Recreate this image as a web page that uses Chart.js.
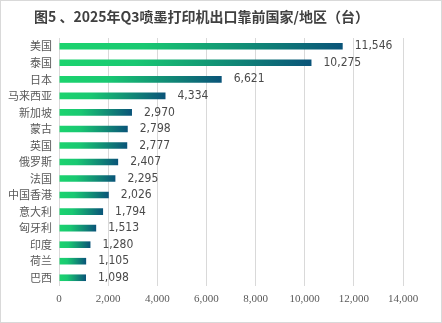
<!DOCTYPE html>
<html>
<head>
<meta charset="utf-8">
<script src="https://cdn.jsdelivr.net/npm/chart.js@4/dist/chart.umd.min.js"></script>
<style>
  html, body { margin: 0; padding: 0; background: #fff; }
  #wrap { position: relative; width: 442px; height: 323px; }
</style>
</head>
<body>
<div id="wrap"><canvas id="exportChart" width="442" height="323"></canvas></div>
<script>
/* ─── DATA ──────────────────────────────────────────────── */
const chartTitle = '图5 、2025年Q3喷墨打印机出口靠前国家/地区（台）';
const countries = ['美国', '泰国', '日本', '马来西亚', '新加坡', '蒙古', '英国', '俄罗斯',
                   '法国', '中国香港', '意大利', '匈牙利', '印度', '荷兰', '巴西'];
const units     = [11546, 10275, 6621, 4334, 2970, 2798, 2777, 2407,
                   2295, 2026, 1794, 1513, 1280, 1105, 1098];
const xTicks    = [0, 2000, 4000, 6000, 8000, 10000, 12000, 14000];

const fmt = v => Number(v).toLocaleString('en-US');

/* ─── PLUGINS ───────────────────────────────────────────── */
// frame + title drawn straight on the canvas
const framePlugin = {
  id: 'frame',
  afterDraw(chart) {
    const ctx = chart.ctx;
    ctx.save();
    ctx.strokeStyle = '#d9d9d9';
    ctx.lineWidth = 1;
    ctx.strokeRect(0.5, 0.5, chart.width - 1, chart.height - 1);
    ctx.fillStyle = '#404040';
    ctx.font = "bold 14px 'Noto Sans CJK SC', sans-serif";
    ctx.textBaseline = 'middle';
    ctx.fillText(chartTitle, 34, 17);
    ctx.restore();
  }
};

// value labels to the right of each bar
const valueLabels = {
  id: 'valueLabels',
  afterDatasetsDraw(chart) {
    const ctx = chart.ctx;
    const meta = chart.getDatasetMeta(0);
    ctx.save();
    ctx.fillStyle = '#4a4a4a';
    ctx.font = "12px 'Liberation Sans Narrow', 'DejaVu Sans Condensed', sans-serif";
    ctx.textBaseline = 'middle';
    meta.data.forEach((bar, i) => {
      ctx.fillText(fmt(units[i]), bar.x + 12, bar.y);
    });
    ctx.restore();
  }
};

/* ─── CHART ─────────────────────────────────────────────── */
function barGradient(context) {
  const chart = context.chart;
  const x = chart.scales.x;
  if (!x || context.type !== 'data') return '#1dd36f';
  const x0 = x.getPixelForValue(0);
  const x1 = x.getPixelForValue(context.raw);
  if (!isFinite(x0) || !isFinite(x1) || x1 <= x0) return '#1dd36f';
  const g = chart.ctx.createLinearGradient(x0, 0, x1, 0);
  g.addColorStop(0, '#1cd46e');
  g.addColorStop(0.3, '#19c872');
  g.addColorStop(1, '#0a5479');
  return g;
}

new Chart(document.getElementById('exportChart'), {
  type: 'bar',
  data: {
    labels: countries,
    datasets: [{
      data: units,
      backgroundColor: barGradient,
      borderWidth: 0,
      barPercentage: 0.4,
      categoryPercentage: 1
    }]
  },
  plugins: [framePlugin, valueLabels],
  options: {
    indexAxis: 'y',
    responsive: false,
    animation: false,
    devicePixelRatio: 1,
    layout: { padding: { top: 38, left: 8, right: 39, bottom: 0 } },
    plugins: {
      legend: { display: false },
      tooltip: { enabled: false },
      title: { display: false }
    },
    scales: {
      x: {
        min: 0,
        max: 14000,
        afterBuildTicks: scale => { scale.ticks = xTicks.map(v => ({ value: v })); },
        afterFit: scale => { scale.height = 37; },
        grid: { color: '#d9d9d9', lineWidth: 1, drawTicks: false },
        border: { display: false },
        ticks: {
          padding: 7,
          color: '#595959',
          font: { family: "'Liberation Serif', serif", size: 11 },
          callback: v => fmt(v)
        }
      },
      y: {
        afterFit: scale => { scale.width = 51; },
        grid: { display: false, drawTicks: false },
        border: { display: false },
        ticks: {
          padding: 7,
          color: '#595959',
          font: { family: "'Noto Sans CJK SC', sans-serif", size: 11 }
        }
      }
    }
  }
});
</script>
</body>
</html>
